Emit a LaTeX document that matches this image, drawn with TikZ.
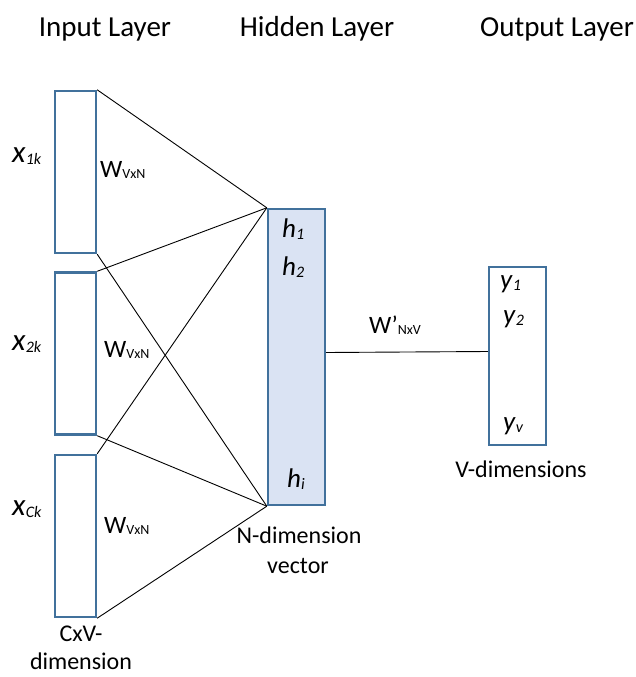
\documentclass[tikz,border=0pt]{standalone}
\usepackage{fontspec}
\setmainfont{Carlito}
\definecolor{boxblue}{RGB}{65,113,156}
\definecolor{hidfill}{RGB}{218,227,243}
\newcommand\mylab[2]{\textit{#1}\raisebox{-2pt}{\fontsize{16}{16}\selectfont\textit{#2}}}
\newcommand\mywt[2]{#1\raisebox{-1pt}{\fontsize{14}{14}\selectfont #2}}
\begin{document}
\begin{tikzpicture}[x=1pt,y=-1pt,
  vecbox/.style={draw=boxblue, line width=2.4pt, inner sep=0pt, minimum width=41pt, minimum height=162pt},
  hidbox/.style={draw=boxblue, fill=hidfill, line width=2.4pt, inner sep=0pt, minimum width=57pt, minimum height=296pt},
  outbox/.style={draw=boxblue, line width=2.4pt, inner sep=0pt, minimum width=57pt, minimum height=178pt},
  conn/.style={draw=black, line width=0.9pt},
  title/.style={font=\fontsize{29}{34}\selectfont, anchor=base, inner sep=0pt},
  txt/.style={font=\fontsize{24}{28}\selectfont, anchor=base, inner sep=0pt},
  sym/.style={font=\fontsize{27}{30}\selectfont, anchor=base west, inner sep=0pt},
  xsym/.style={font=\fontsize{31}{34}\selectfont, anchor=base west, inner sep=0pt},
  wsym/.style={font=\fontsize{25}{28}\selectfont, anchor=base west, inner sep=0pt}
]
\useasboundingbox (0,0) rectangle (636,677);
% titles
\node[title] (t1) at (105,37) {Input Layer};
\node[title] (t2) at (317,37) {Hidden Layer};
\node[title] (t3) at (557,37) {Output Layer};
% boxes
\node[vecbox] (in1) at (75.5,172) {};
\node[vecbox] (in2) at (75.5,353.5) {};
\node[vecbox] (in3) at (75.5,536) {};
\node[hidbox] (hid) at (296.5,357) {};
\node[outbox] (out) at (517.5,356) {};
% connectors
\draw[conn] (in1.north east) -- (hid.north west);
\draw[conn] (in1.south east) -- (hid.south west);
\draw[conn] (in2.north east) -- (hid.north west);
\draw[conn] (in2.south east) -- (hid.south west);
\draw[conn] (in3.north east) -- (hid.north west);
\draw[conn] (in3.south east) -- (hid.south west);
\draw[conn] ([yshift=4.5pt]hid.east) -- ([yshift=4.5pt]out.west);
% input labels
\node[xsym] (x1) at (12,162) {\mylab{x}{1k}};
\node[xsym] (x2) at (12,350) {\mylab{x}{2k}};
\node[xsym] (x3) at (12,515) {\mylab{x}{Ck}};
\node[wsym] (w1) at (100,177) {\mywt{W}{VxN}};
\node[wsym] (w2) at (104,357) {\mywt{W}{VxN}};
\node[wsym] (w3) at (104,533) {\mywt{W}{VxN}};
% hidden labels
\node[sym] (h1) at (282,237) {\mylab{h}{1}};
\node[sym] (h2) at (282,275) {\mylab{h}{2}};
\node[sym] (hi) at (287,487) {\mylab{h}{i}};
% output labels
\node[sym] (y1) at (500,288) {\mylab{y}{1}};
\node[sym] (y2) at (503,323) {\mylab{y}{2}};
\node[sym] (yv) at (503,430) {\mylab{y}{v}};
\node[wsym] (wp) at (369,333) {\mywt{W’}{NxV}};
% captions
\node[txt] (c1) at (521,477) {V-dimensions};
\node[txt] (c2a) at (299,543) {N-dimension};
\node[txt] (c2b) at (298,573) {vector};
\node[txt] (c3a) at (81,641) {CxV-};
\node[txt] (c3b) at (81,669) {dimension};
\end{tikzpicture}
\end{document}
